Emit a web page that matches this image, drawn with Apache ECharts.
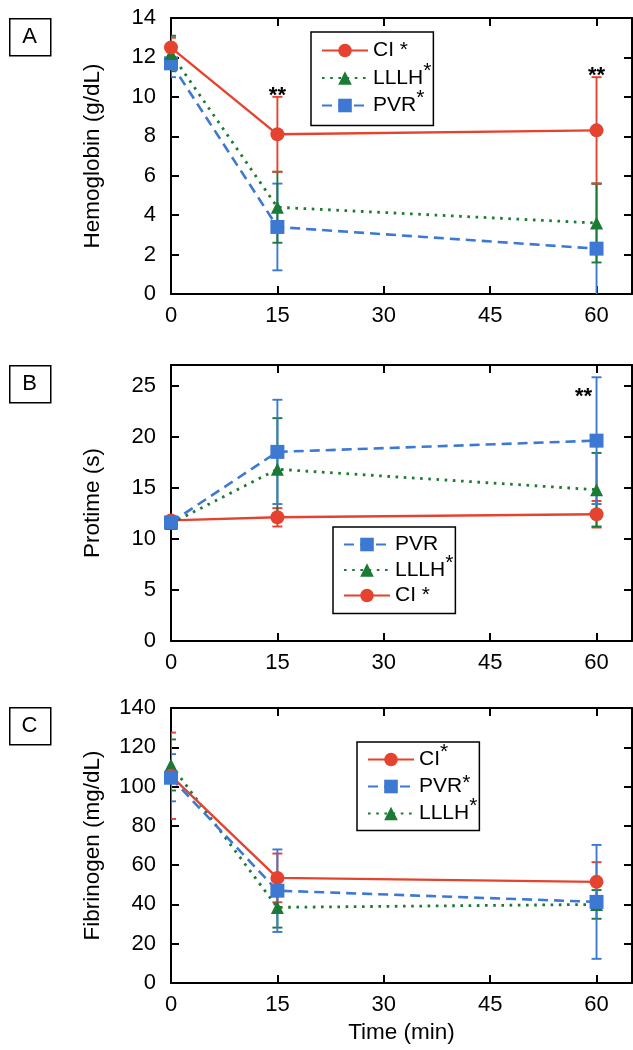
<!DOCTYPE html>
<html><head><meta charset="utf-8">
<script src="https://cdn.jsdelivr.net/npm/echarts@6/dist/echarts.min.js"></script>
<style>html,body{margin:0;padding:0;background:#fff}#c{width:633px;height:1050px}</style>
</head><body><div id="c"></div>
<script>
// ---- data ----
const times = [0, 15, 60];
// Panel A: Hemoglobin (g/dL)
const hbCI = [12.5, 8.1, 8.3],   hbCIsd = [0.5, 1.9, 2.7];
const hbLL = [12.2, 4.4, 3.6],   hbLLsd = [0.9, 1.8, 2.0];
const hbPV = [11.7, 3.4, 2.3],   hbPVsd = [0.7, 2.2, 3.3];
const hbStars = [[15, 10.0], [60, 11.0]];
// Panel B: Protime (s)
const ptPV = [11.6, 18.5, 19.6], ptPVsd = [0.3, 5.1, 6.2];
const ptLL = [11.5, 16.8, 14.8], ptLLsd = [0.3, 5.0, 3.6];
const ptCI = [11.8, 12.1, 12.4], ptCIsd = [0.4, 0.9, 1.3];
const ptStars = [[60, 24.0]];
// Panel C: Fibrinogen (mg/dL)
const fbCI = [105.5, 53.5, 51.5], fbCIsd = [22, 12.4, 10];
const fbPV = [104.5, 47, 41.3],   fbPVsd = [12, 21, 29];
const fbLL = [111, 38.5, 40],     fbLLsd = [13, 10.3, 7.3];

const panelLabels = ['A', 'B', 'C'];
const yNames = ['Hemoglobin (g/dL)', 'Protime (s)', 'Fibrinogen (mg/dL)'];
const yMax = [14, 27, 140];
const yInterval = [2, 5, 20];
const xName = 'Time (min)';

// ---- styles ----
const FONT = '"Liberation Sans", Arial, Helvetica, sans-serif';
const RED = '#e5432f', GREEN = '#1b7a34', BLUE = '#3d78d3';
const STY = {
  CI:   {color: RED,   symbol: 'circle',   line: 'solid',  width: 2.4, size: 14},
  LLLH: {color: GREEN, symbol: 'triangle', line: [2.6, 5.6], width: 2.8, size: 13},
  PVR:  {color: BLUE,  symbol: 'rect',     line: [10, 6],  width: 2.6, size: 14}
};
const grids = [
  {left: 171, top: 18,  width: 461, height: 276},
  {left: 171, top: 365, width: 461, height: 276},
  {left: 171, top: 708, width: 461, height: 275}
];

const xAxes = [], yAxes = [];
grids.forEach((g, i) => {
  [false, true].forEach(top => {
    xAxes.push({
      type: 'value', gridIndex: i, position: top ? 'top' : 'bottom',
      min: 0, max: 65, interval: 15,
      axisLine: {show: true, onZero: false, lineStyle: {color: '#000', width: 2}},
      axisTick: {show: true, inside: true, length: 8, lineStyle: {color: '#000', width: 2}},
      axisLabel: {show: !top, showMaxLabel: false, color: '#000', fontSize: 22, fontFamily: FONT, margin: 11},
      splitLine: {show: false},
      name: (!top && i === 2) ? xName : '', nameLocation: 'middle', nameGap: 38,
      nameTextStyle: {color: '#000', fontSize: 22.5, fontFamily: FONT}
    });
    yAxes.push({
      type: 'value', gridIndex: i, position: top ? 'right' : 'left',
      min: 0, max: yMax[i], interval: yInterval[i],
      axisLine: {show: true, onZero: false, lineStyle: {color: '#000', width: 2}},
      axisTick: {show: true, inside: true, length: 8, lineStyle: {color: '#000', width: 2}},
      axisLabel: {show: !top, showMaxLabel: i === 1 ? false : true, color: '#000', fontSize: 22, fontFamily: FONT, margin: 15},
      splitLine: {show: false},
      name: top ? '' : yNames[i], nameLocation: 'middle', nameGap: 67,
      nameTextStyle: {color: '#000', fontSize: 22.5, fontFamily: FONT}
    });
  });
});

function errRender(color) {
  return function (params, api) {
    const x = api.value(0);
    const lo = api.coord([x, api.value(1)]);
    const hi = api.coord([x, api.value(2)]);
    const w = 5;
    const st = {stroke: color, lineWidth: 1.9};
    return {type: 'group', children: [
      {type: 'line', shape: {x1: lo[0], y1: lo[1], x2: hi[0], y2: hi[1]}, style: st},
      {type: 'line', shape: {x1: hi[0] - w, y1: hi[1], x2: hi[0] + w, y2: hi[1]}, style: st},
      {type: 'line', shape: {x1: lo[0] - w, y1: lo[1], x2: lo[0] + w, y2: lo[1]}, style: st}
    ]};
  };
}

const series = [];
function addGroup(panel, name, mean, sd) {
  const s = STY[name];
  series.push({
    type: 'custom', xAxisIndex: panel * 2, yAxisIndex: panel * 2, clip: true, silent: true, z: 2,
    data: times.map((t, k) => [t, mean[k] - sd[k], mean[k] + sd[k]]),
    renderItem: errRender(s.color)
  });
  series.push({
    type: 'line', name: name, xAxisIndex: panel * 2, yAxisIndex: panel * 2, z: 3,
    data: times.map((t, k) => [t, mean[k]]),
    symbol: s.symbol, symbolSize: s.size, showAllSymbol: true,
    lineStyle: {color: s.color, width: s.width, type: s.line},
    itemStyle: {color: s.color, opacity: 1},
    emphasis: {disabled: true}
  });
}
function addStars(panel, pts, dx, dy) {
  series.push({
    type: 'custom', xAxisIndex: panel * 2, yAxisIndex: panel * 2, silent: true, z: 5,
    data: pts,
    renderItem: function (params, api) {
      const p = api.coord([api.value(0), api.value(1)]);
      return {type: 'text', x: p[0] + dx, y: p[1] + dy,
        style: {text: '**', fill: '#000', fontSize: 22, fontWeight: 'bold', fontFamily: FONT,
                align: 'center', verticalAlign: 'middle'}};
    }
  });
}
// Panel A
addGroup(0, 'PVR', hbPV, hbPVsd);
addGroup(0, 'LLLH', hbLL, hbLLsd);
addGroup(0, 'CI', hbCI, hbCIsd);
addStars(0, hbStars, 0, -1);
// Panel B
addGroup(1, 'CI', ptCI, ptCIsd);
addGroup(1, 'LLLH', ptLL, ptLLsd);
addGroup(1, 'PVR', ptPV, ptPVsd);
addStars(1, ptStars, -13, 1);
// Panel C
addGroup(2, 'LLLH', fbLL, fbLLsd);
addGroup(2, 'CI', fbCI, fbCIsd);
addGroup(2, 'PVR', fbPV, fbPVsd);

const supRich = {
  s:  {fontSize: 21, fontFamily: FONT, color: '#000', verticalAlign: 'top', height: 10, lineHeight: 10},
  s2: {fontSize: 21, fontFamily: FONT, color: '#000', verticalAlign: 'top', height: 17, lineHeight: 17}
};
function mkLegend(names, labels, left, top, gap, pad) {
  return {
    data: names, orient: 'vertical', left: left, top: top, itemGap: gap,
    itemWidth: 46, itemHeight: 17, padding: pad,
    borderColor: '#000', borderWidth: 1.5, backgroundColor: '#fff',
    selectedMode: false,
    formatter: n => labels[n],
    textStyle: {fontSize: 21, fontFamily: FONT, color: '#000', lineHeight: 24, rich: supRich}
  };
}
const legends = [
  mkLegend(['CI', 'LLLH', 'PVR'], {CI: 'CI *{s| }', LLLH: 'LLLH{s|*}', PVR: 'PVR{s|*}'}, 311, 32, -2, [1, 2, 8, 10]),
  mkLegend(['PVR', 'LLLH', 'CI'], {PVR: 'PVR{s| }', LLLH: 'LLLH{s|*}', CI: 'CI *{s| }'}, 333, 527, -4, [0, 2, 6, 10]),
  mkLegend(['CI', 'PVR', 'LLLH'], {CI: 'CI{s|*}', PVR: 'PVR{s2|*}{s| }', LLLH: 'LLLH{s|*}'}, 357, 742, -2.5, [0, 2, 5, 10])
];

const boxes = [[9, 18], [9, 365], [9, 707]];
const graphic = [];
boxes.forEach((b, i) => {
  graphic.push({type: 'rect', left: b[0], top: b[1], shape: {width: 41, height: 37},
    style: {fill: '#fff', stroke: '#000', lineWidth: 1.5}});
  graphic.push({type: 'text', x: b[0] + 20.5, y: b[1] + 19,
    style: {text: panelLabels[i], fontSize: 22, fontFamily: FONT, fill: '#000', align: 'center', verticalAlign: 'middle'}});
});

const chart = echarts.init(document.getElementById('c'), null, {renderer: 'canvas'});
chart.setOption({
  animation: false,
  backgroundColor: '#fff',
  grid: grids,
  xAxis: xAxes,
  yAxis: yAxes,
  legend: legends,
  graphic: graphic,
  series: series
});
</script></body></html>
